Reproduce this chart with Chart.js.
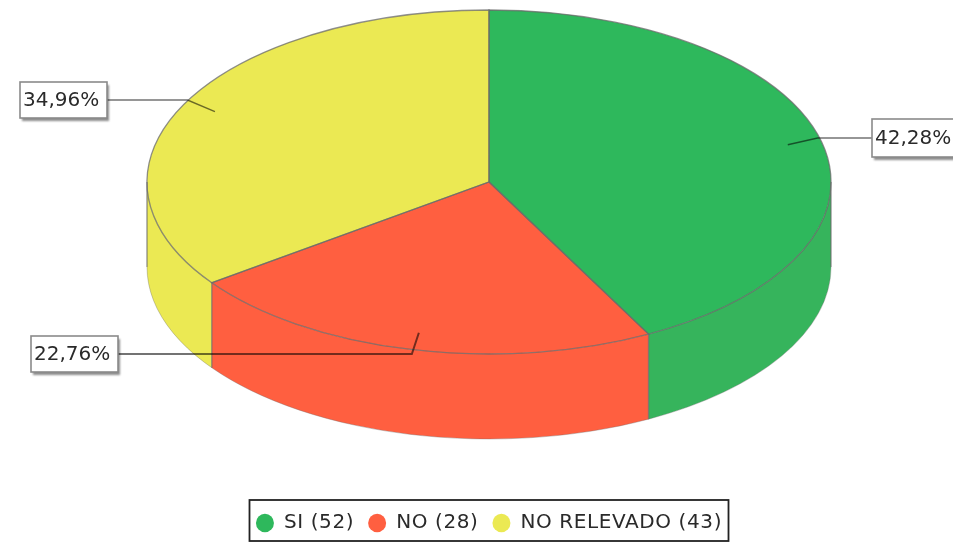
<!DOCTYPE html>
<html><head><meta charset="utf-8">
<style>html,body{margin:0;padding:0;background:#fff}canvas{display:block;filter:blur(0.55px)}</style>
<script src="https://cdn.jsdelivr.net/npm/chart.js@4"></script></head>
<body><canvas id="c" width="953" height="542"></canvas>
<script>
const categories = ['SI', 'NO', 'NO RELEVADO'];
const counts = [52, 28, 43];
const topColors = ['#2EB85C', '#FF5F40', '#EBE953'];
const sideColors = ['#36B45C', '#FF5F40', '#EBE953'];
const labelBoxes = [
  {x: 872, y: 119, w: 86, h: 38, side: 'left'},
  {x: 31, y: 336, w: 87, h: 36, side: 'right'},
  {x: 20, y: 82, w: 87, h: 36, side: 'right'}
];
const CX = 489, CY = 182, RX = 342, RY = 172, DEPTH = 85;
const OUT = 'rgba(105,105,105,0.75)';
const LEGEND_SPACING = '0.6px';
const total = counts.reduce((a, b) => a + b, 0);

function toEllipse(ctx, el) {
  ctx.translate(CX, CY);
  ctx.scale(RX / el.outerRadius, RY / el.outerRadius);
  ctx.translate(-el.x, -el.y);
}
const pie3d = {
  id: 'pie3d',
  beforeLayout(chart) {
    chart.ctx.letterSpacing = LEGEND_SPACING;
  },
  beforeDraw(chart) {
    chart.ctx.letterSpacing = LEGEND_SPACING;
  },
  beforeDatasetsDraw(chart) {
    const ctx = chart.ctx, arcs = chart.getDatasetMeta(0).data;
    arcs.forEach((el, i) => {
      const a0 = Math.max(el.startAngle, 0), a1 = Math.min(el.endAngle, Math.PI);
      if (a1 <= a0) return;
      ctx.beginPath();
      ctx.ellipse(CX, CY, RX, RY, 0, a0, a1);
      ctx.ellipse(CX, CY + DEPTH, RX, RY, 0, a1, a0, true);
      ctx.closePath();
      ctx.fillStyle = sideColors[i];
      ctx.fill();
    });
    ctx.save();
    toEllipse(ctx, arcs[0]);
  },
  afterDatasetsDraw(chart) {
    const ctx = chart.ctx, arcs = chart.getDatasetMeta(0).data;
    ctx.restore();
    ctx.save();
    ctx.letterSpacing = '0px';
    ctx.strokeStyle = OUT; ctx.lineWidth = 1.3;
    arcs.forEach(el => {
      ctx.save();
      toEllipse(ctx, el);
      ctx.beginPath();
      ctx.moveTo(el.x, el.y);
      ctx.arc(el.x, el.y, el.outerRadius, el.startAngle, el.endAngle);
      ctx.closePath();
      ctx.restore();
      ctx.stroke();
    });
    ctx.beginPath();
    arcs.forEach(el => {
      const a = el.startAngle, sy = Math.sin(a);
      if (sy > 0) {
        const x = CX + RX * Math.cos(a), y = CY + RY * sy;
        ctx.moveTo(x, y); ctx.lineTo(x, y + DEPTH);
      }
    });
    ctx.moveTo(CX - RX, CY); ctx.lineTo(CX - RX, CY + DEPTH);
    ctx.moveTo(CX + RX, CY); ctx.lineTo(CX + RX, CY + DEPTH);
    ctx.stroke();
    ctx.beginPath();
    ctx.ellipse(CX, CY + DEPTH, RX, RY, 0, 0, Math.PI);
    ctx.strokeStyle = 'rgba(105,105,105,0.35)';
    ctx.lineWidth = 1;
    ctx.stroke();
    arcs.forEach((el, i) => {
      const mid = (el.startAngle + el.endAngle) / 2;
      const c = Math.cos(mid), s = Math.sin(mid);
      const b = labelBoxes[i], ly = b.y + b.h / 2;
      const ax = CX + RX * 0.9 * c, ay = CY + RY * 0.9 * s;
      const ex = CX + RX * 0.99 * c;
      const bx = b.side === 'left' ? b.x : b.x + b.w;
      ctx.beginPath();
      ctx.moveTo(ax, ay); ctx.lineTo(ex, ly); ctx.lineTo(bx, ly);
      ctx.strokeStyle = 'rgba(0,0,0,0.55)';
      ctx.lineWidth = i === 1 ? 2 : 1.4;
      ctx.stroke();
      ctx.save();
      ctx.shadowColor = 'rgba(0,0,0,0.45)';
      ctx.shadowOffsetX = 2; ctx.shadowOffsetY = 3; ctx.shadowBlur = 2;
      ctx.fillStyle = '#fff';
      ctx.fillRect(b.x, b.y, b.w, b.h);
      ctx.restore();
      ctx.strokeStyle = '#8a8a8a'; ctx.lineWidth = 1.6;
      ctx.strokeRect(b.x, b.y, b.w, b.h);
      const pct = (counts[i] / total * 100).toFixed(2).replace('.', ',') + '%';
      ctx.font = '20px "DejaVu Sans"';
      ctx.fillStyle = '#2a2a2a';
      ctx.textBaseline = 'middle';
      ctx.textAlign = 'left';
      ctx.fillText(pct, b.x + 3, b.y + b.h / 2 + 1);
    });
    ctx.restore();
  },
  afterDraw(chart) {
    const ctx = chart.ctx;
    ctx.save();
    ctx.strokeStyle = '#222'; ctx.lineWidth = 1.8;
    ctx.strokeRect(249.5, 500, 479, 41);
    ctx.restore();
  }
};

new Chart(document.getElementById('c'), {
  type: 'pie',
  data: {
    labels: categories.map((c, i) => c + ' (' + counts[i] + ')'),
    datasets: [{data: counts, backgroundColor: topColors, borderWidth: 0, clip: false}]
  },
  options: {
    responsive: false,
    animation: false,
    layout: {padding: {bottom: -1, left: 25}},
    plugins: {
      tooltip: {enabled: false},
      legend: {
        position: 'bottom',
        labels: {
          usePointStyle: true, pointStyle: 'circle', pointStyleWidth: 18,
          boxHeight: 13, padding: 14,
          color: '#2a2a2a',
          font: {family: '"DejaVu Sans"', size: 20}
        }
      }
    }
  },
  plugins: [pie3d]
});
</script></body></html>
